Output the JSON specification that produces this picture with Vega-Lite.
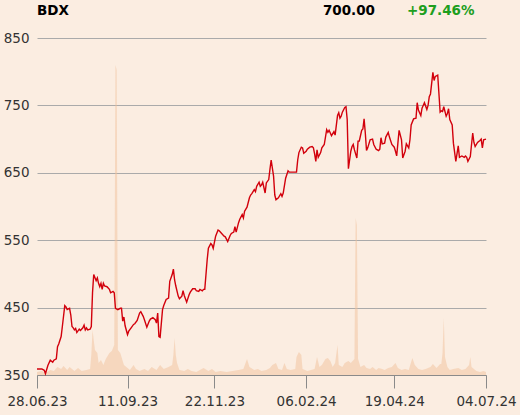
{
  "$schema": "https://vega.github.io/schema/vega-lite/v6.json",
  "width": 449,
  "height": 337,
  "autosize": {"type": "none"},
  "padding": {"left": 37, "top": 38, "right": 34, "bottom": 40},
  "background": "#fbede1",
  "config": {"view": {"stroke": null}, "font": "DejaVu Sans"},
  "datasets": {
    "price": [
      {"date":"2023-06-28","close":359},{"date":"2023-07-02","close":359},{"date":"2023-07-04","close":357},{"date":"2023-07-05","close":352},{"date":"2023-07-07","close":364},{"date":"2023-07-09","close":372},{"date":"2023-07-11","close":369},{"date":"2023-07-12","close":372},{"date":"2023-07-14","close":374},{"date":"2023-07-15","close":392},{"date":"2023-07-16","close":396},{"date":"2023-07-18","close":407},{"date":"2023-07-19","close":422},{"date":"2023-07-21","close":453},{"date":"2023-07-22","close":451},{"date":"2023-07-23","close":447},{"date":"2023-07-24","close":448},{"date":"2023-07-25","close":449},{"date":"2023-07-26","close":439},{"date":"2023-07-27","close":422},{"date":"2023-07-28","close":420},{"date":"2023-07-29","close":417},{"date":"2023-07-30","close":419},{"date":"2023-07-31","close":413},
      {"date":"2023-08-02","close":418},{"date":"2023-08-03","close":416},{"date":"2023-08-05","close":420},{"date":"2023-08-06","close":424},{"date":"2023-08-07","close":417},{"date":"2023-08-08","close":420},{"date":"2023-08-09","close":417},{"date":"2023-08-11","close":418},{"date":"2023-08-12","close":422},{"date":"2023-08-13","close":472},{"date":"2023-08-14","close":499},{"date":"2023-08-16","close":490},{"date":"2023-08-17","close":494},{"date":"2023-08-18","close":486},{"date":"2023-08-19","close":481},{"date":"2023-08-20","close":486},{"date":"2023-08-21","close":477},{"date":"2023-08-22","close":486},{"date":"2023-08-23","close":482},{"date":"2023-08-25","close":481},{"date":"2023-08-27","close":477},{"date":"2023-08-28","close":472},{"date":"2023-08-30","close":474},{"date":"2023-08-31","close":472},
      {"date":"2023-09-01","close":449},{"date":"2023-09-03","close":447},{"date":"2023-09-05","close":449},{"date":"2023-09-06","close":449},{"date":"2023-09-07","close":430},{"date":"2023-09-08","close":436},{"date":"2023-09-09","close":423},{"date":"2023-09-11","close":410},{"date":"2023-09-12","close":415},{"date":"2023-09-14","close":420},{"date":"2023-09-16","close":425},{"date":"2023-09-17","close":426},{"date":"2023-09-19","close":431},{"date":"2023-09-21","close":442},{"date":"2023-09-22","close":444},{"date":"2023-09-24","close":437},{"date":"2023-09-25","close":432},{"date":"2023-09-27","close":421},{"date":"2023-09-29","close":430},{"date":"2023-09-30","close":433},
      {"date":"2023-10-02","close":435},{"date":"2023-10-04","close":432},{"date":"2023-10-05","close":427},{"date":"2023-10-06","close":442},{"date":"2023-10-07","close":407},{"date":"2023-10-08","close":406},{"date":"2023-10-10","close":447},{"date":"2023-10-11","close":453},{"date":"2023-10-13","close":462},{"date":"2023-10-15","close":464},{"date":"2023-10-16","close":489},{"date":"2023-10-18","close":499},{"date":"2023-10-19","close":507},{"date":"2023-10-20","close":491},{"date":"2023-10-21","close":482},{"date":"2023-10-23","close":467},{"date":"2023-10-24","close":463},{"date":"2023-10-26","close":467},{"date":"2023-10-27","close":475},{"date":"2023-10-28","close":468},{"date":"2023-10-30","close":458},
      {"date":"2023-11-01","close":469},{"date":"2023-11-02","close":473},{"date":"2023-11-04","close":478},{"date":"2023-11-06","close":478},{"date":"2023-11-07","close":475},{"date":"2023-11-09","close":474},{"date":"2023-11-10","close":477},{"date":"2023-11-12","close":475},{"date":"2023-11-13","close":477},{"date":"2023-11-14","close":477},{"date":"2023-11-16","close":521},{"date":"2023-11-17","close":538},{"date":"2023-11-19","close":545},{"date":"2023-11-20","close":543},{"date":"2023-11-21","close":538},{"date":"2023-11-23","close":556},{"date":"2023-11-25","close":565},{"date":"2023-11-26","close":564},{"date":"2023-11-28","close":560},{"date":"2023-11-30","close":556},
      {"date":"2023-12-01","close":555},{"date":"2023-12-03","close":548},{"date":"2023-12-05","close":557},{"date":"2023-12-06","close":560},{"date":"2023-12-08","close":562},{"date":"2023-12-09","close":570},{"date":"2023-12-10","close":562},{"date":"2023-12-12","close":576},{"date":"2023-12-13","close":581},{"date":"2023-12-15","close":588},{"date":"2023-12-16","close":583},{"date":"2023-12-17","close":593},{"date":"2023-12-19","close":599},{"date":"2023-12-21","close":613},{"date":"2023-12-22","close":617},{"date":"2023-12-23","close":619},{"date":"2023-12-25","close":625},{"date":"2023-12-26","close":622},{"date":"2023-12-27","close":630},{"date":"2023-12-29","close":636},{"date":"2023-12-30","close":630},{"date":"2023-12-31","close":632},
      {"date":"2024-01-01","close":636},{"date":"2024-01-03","close":620},{"date":"2024-01-04","close":635},{"date":"2024-01-06","close":640},{"date":"2024-01-07","close":655},{"date":"2024-01-08","close":669},{"date":"2024-01-10","close":645},{"date":"2024-01-11","close":617},{"date":"2024-01-12","close":610},{"date":"2024-01-14","close":613},{"date":"2024-01-16","close":619},{"date":"2024-01-17","close":615},{"date":"2024-01-18","close":620},{"date":"2024-01-20","close":642},{"date":"2024-01-22","close":653},{"date":"2024-01-23","close":651},{"date":"2024-01-26","close":651},{"date":"2024-01-28","close":651},{"date":"2024-01-29","close":651},{"date":"2024-01-30","close":669},{"date":"2024-01-31","close":680},
      {"date":"2024-02-02","close":688},{"date":"2024-02-03","close":687},{"date":"2024-02-04","close":679},{"date":"2024-02-06","close":682},{"date":"2024-02-07","close":685},{"date":"2024-02-09","close":688},{"date":"2024-02-11","close":689},{"date":"2024-02-12","close":687},{"date":"2024-02-13","close":678},{"date":"2024-02-14","close":667},{"date":"2024-02-15","close":684},{"date":"2024-02-16","close":673},{"date":"2024-02-18","close":680},{"date":"2024-02-19","close":687},{"date":"2024-02-21","close":692},{"date":"2024-02-23","close":714},{"date":"2024-02-24","close":710},{"date":"2024-02-25","close":713},{"date":"2024-02-27","close":705},{"date":"2024-02-29","close":711},
      {"date":"2024-03-01","close":706},{"date":"2024-03-03","close":735},{"date":"2024-03-04","close":739},{"date":"2024-03-05","close":731},{"date":"2024-03-06","close":734},{"date":"2024-03-07","close":740},{"date":"2024-03-09","close":747},{"date":"2024-03-10","close":748},{"date":"2024-03-11","close":729},{"date":"2024-03-12","close":656},{"date":"2024-03-14","close":682},{"date":"2024-03-15","close":689},{"date":"2024-03-16","close":692},{"date":"2024-03-17","close":684},{"date":"2024-03-19","close":672},{"date":"2024-03-20","close":697},{"date":"2024-03-21","close":697},{"date":"2024-03-22","close":705},{"date":"2024-03-23","close":713},{"date":"2024-03-24","close":715},{"date":"2024-03-25","close":730},{"date":"2024-03-26","close":709},{"date":"2024-03-27","close":683},{"date":"2024-03-28","close":687},{"date":"2024-03-30","close":699},
      {"date":"2024-04-01","close":700},{"date":"2024-04-02","close":692},{"date":"2024-04-04","close":685},{"date":"2024-04-06","close":683},{"date":"2024-04-07","close":685},{"date":"2024-04-08","close":702},{"date":"2024-04-09","close":693},{"date":"2024-04-11","close":694},{"date":"2024-04-12","close":703},{"date":"2024-04-14","close":710},{"date":"2024-04-15","close":703},{"date":"2024-04-17","close":692},{"date":"2024-04-19","close":688},{"date":"2024-04-20","close":682},{"date":"2024-04-21","close":675},{"date":"2024-04-22","close":694},{"date":"2024-04-23","close":713},{"date":"2024-04-25","close":699},{"date":"2024-04-26","close":672},{"date":"2024-04-28","close":682},{"date":"2024-04-29","close":693},
      {"date":"2024-05-01","close":687},{"date":"2024-05-02","close":699},{"date":"2024-05-03","close":721},{"date":"2024-05-05","close":730},{"date":"2024-05-07","close":731},{"date":"2024-05-08","close":754},{"date":"2024-05-09","close":743},{"date":"2024-05-11","close":735},{"date":"2024-05-12","close":746},{"date":"2024-05-14","close":754},{"date":"2024-05-16","close":744},{"date":"2024-05-17","close":750},{"date":"2024-05-18","close":763},{"date":"2024-05-19","close":767},{"date":"2024-05-21","close":799},{"date":"2024-05-22","close":787},{"date":"2024-05-23","close":793},{"date":"2024-05-25","close":795},{"date":"2024-05-27","close":740},{"date":"2024-05-28","close":742},{"date":"2024-05-29","close":741},{"date":"2024-05-30","close":748},
      {"date":"2024-06-01","close":734},{"date":"2024-06-02","close":738},{"date":"2024-06-03","close":745},{"date":"2024-06-04","close":729},{"date":"2024-06-06","close":721},{"date":"2024-06-07","close":694},{"date":"2024-06-09","close":667},{"date":"2024-06-11","close":690},{"date":"2024-06-12","close":673},{"date":"2024-06-14","close":675},{"date":"2024-06-16","close":673},{"date":"2024-06-17","close":675},{"date":"2024-06-18","close":673},{"date":"2024-06-19","close":667},{"date":"2024-06-21","close":674},{"date":"2024-06-23","close":709},{"date":"2024-06-24","close":695},{"date":"2024-06-25","close":689},{"date":"2024-06-27","close":695},{"date":"2024-06-29","close":698},{"date":"2024-06-30","close":700},
      {"date":"2024-07-01","close":687},{"date":"2024-07-02","close":699},{"date":"2024-07-04","close":700}
    ],
    "volume": [
      {"date":"2023-06-28","volume":3},{"date":"2023-07-02","volume":4},{"date":"2023-07-05","volume":2},{"date":"2023-07-09","volume":5},{"date":"2023-07-12","volume":4},{"date":"2023-07-15","volume":8},{"date":"2023-07-18","volume":6},{"date":"2023-07-20","volume":9},{"date":"2023-07-23","volume":5},{"date":"2023-07-25","volume":8},{"date":"2023-07-29","volume":4},
      {"date":"2023-08-01","volume":7},{"date":"2023-08-04","volume":4},{"date":"2023-08-08","volume":5},{"date":"2023-08-11","volume":6},{"date":"2023-08-12","volume":20},{"date":"2023-08-13","volume":45},{"date":"2023-08-15","volume":25},{"date":"2023-08-17","volume":22},{"date":"2023-08-18","volume":12},{"date":"2023-08-20","volume":15},{"date":"2023-08-22","volume":10},{"date":"2023-08-24","volume":16},{"date":"2023-08-26","volume":20},{"date":"2023-08-27","volume":22},{"date":"2023-08-29","volume":24},{"date":"2023-08-31","volume":30},
      {"date":"2023-09-01","volume":310},{"date":"2023-09-02","volume":305},{"date":"2023-09-03","volume":25},{"date":"2023-09-05","volume":22},{"date":"2023-09-06","volume":18},{"date":"2023-09-08","volume":10},{"date":"2023-09-10","volume":8},{"date":"2023-09-13","volume":5},{"date":"2023-09-16","volume":10},{"date":"2023-09-18","volume":6},{"date":"2023-09-21","volume":4},{"date":"2023-09-25","volume":6},{"date":"2023-09-28","volume":4},
      {"date":"2023-10-01","volume":8},{"date":"2023-10-05","volume":5},{"date":"2023-10-08","volume":10},{"date":"2023-10-11","volume":6},{"date":"2023-10-15","volume":8},{"date":"2023-10-18","volume":10},{"date":"2023-10-19","volume":20},{"date":"2023-10-20","volume":37},{"date":"2023-10-21","volume":20},{"date":"2023-10-22","volume":12},{"date":"2023-10-24","volume":5},{"date":"2023-10-28","volume":4},{"date":"2023-10-31","volume":6},
      {"date":"2023-11-03","volume":4},{"date":"2023-11-07","volume":3},{"date":"2023-11-10","volume":5},{"date":"2023-11-13","volume":7},{"date":"2023-11-17","volume":4},{"date":"2023-11-20","volume":6},{"date":"2023-11-23","volume":3},{"date":"2023-11-27","volume":4},
      {"date":"2023-12-02","volume":3},{"date":"2023-12-07","volume":4},{"date":"2023-12-12","volume":5},{"date":"2023-12-16","volume":6},{"date":"2023-12-19","volume":16},{"date":"2023-12-21","volume":8},{"date":"2023-12-25","volume":5},{"date":"2023-12-28","volume":6},{"date":"2023-12-31","volume":4},
      {"date":"2024-01-04","volume":5},{"date":"2024-01-07","volume":7},{"date":"2024-01-09","volume":10},{"date":"2024-01-12","volume":12},{"date":"2024-01-14","volume":6},{"date":"2024-01-17","volume":5},{"date":"2024-01-19","volume":12},{"date":"2024-01-21","volume":6},{"date":"2024-01-24","volume":5},{"date":"2024-01-28","volume":6},{"date":"2024-01-29","volume":18},{"date":"2024-01-31","volume":23},
      {"date":"2024-02-02","volume":20},{"date":"2024-02-03","volume":6},{"date":"2024-02-07","volume":4},{"date":"2024-02-10","volume":5},{"date":"2024-02-13","volume":6},{"date":"2024-02-15","volume":18},{"date":"2024-02-17","volume":8},{"date":"2024-02-19","volume":10},{"date":"2024-02-22","volume":16},{"date":"2024-02-24","volume":17},{"date":"2024-02-26","volume":14},{"date":"2024-02-28","volume":8},
      {"date":"2024-03-01","volume":12},{"date":"2024-03-03","volume":30},{"date":"2024-03-04","volume":10},{"date":"2024-03-07","volume":8},{"date":"2024-03-09","volume":12},{"date":"2024-03-12","volume":14},{"date":"2024-03-14","volume":12},{"date":"2024-03-17","volume":16},{"date":"2024-03-18","volume":157},{"date":"2024-03-19","volume":150},{"date":"2024-03-20","volume":16},{"date":"2024-03-22","volume":8},{"date":"2024-03-25","volume":10},{"date":"2024-03-27","volume":7},{"date":"2024-03-30","volume":6},
      {"date":"2024-04-01","volume":8},{"date":"2024-04-04","volume":5},{"date":"2024-04-06","volume":7},{"date":"2024-04-09","volume":6},{"date":"2024-04-11","volume":5},{"date":"2024-04-14","volume":7},{"date":"2024-04-17","volume":8},{"date":"2024-04-20","volume":12},{"date":"2024-04-22","volume":7},{"date":"2024-04-25","volume":5},{"date":"2024-04-28","volume":6},
      {"date":"2024-05-01","volume":5},{"date":"2024-05-04","volume":17},{"date":"2024-05-06","volume":10},{"date":"2024-05-09","volume":6},{"date":"2024-05-12","volume":5},{"date":"2024-05-15","volume":6},{"date":"2024-05-19","volume":8},{"date":"2024-05-21","volume":11},{"date":"2024-05-24","volume":7},{"date":"2024-05-27","volume":11},{"date":"2024-05-28","volume":11},{"date":"2024-05-29","volume":22},{"date":"2024-05-30","volume":57},{"date":"2024-05-31","volume":18},
      {"date":"2024-06-02","volume":8},{"date":"2024-06-04","volume":5},{"date":"2024-06-07","volume":6},{"date":"2024-06-11","volume":7},{"date":"2024-06-14","volume":5},{"date":"2024-06-17","volume":6},{"date":"2024-06-20","volume":10},{"date":"2024-06-21","volume":18},{"date":"2024-06-22","volume":8},{"date":"2024-06-26","volume":4},{"date":"2024-06-29","volume":3},
      {"date":"2024-07-02","volume":4},{"date":"2024-07-04","volume":3}
    ]
  },
  "layer": [
    {
      "data": {"name": "volume"},
      "mark": {"type": "area", "color": "#f2c19b", "opacity": 0.5},
      "encoding": {
        "x": {
          "field": "date", "type": "temporal",
          "scale": {"type": "utc", "nice": false, "domain": [{"year": 2023, "month": 6, "date": 28, "utc": true}, {"year": 2024, "month": 7, "date": 4, "utc": true}]},
          "axis": {
            "title": null, "grid": false,
            "values": [
              {"year": 2023, "month": 6, "date": 28, "utc": true},
              {"year": 2023, "month": 9, "date": 11, "utc": true},
              {"year": 2023, "month": 11, "date": 22, "utc": true},
              {"year": 2024, "month": 2, "date": 6, "utc": true},
              {"year": 2024, "month": 4, "date": 19, "utc": true},
              {"year": 2024, "month": 7, "date": 4, "utc": true}
            ],
            "labelExpr": "utcFormat(datum.value, '%d.%m.%y')",
            "tickSize": 13, "tickColor": "#8a8a8a", "domainColor": "#8a8a8a",
            "labelPadding": 6, "labelFontSize": 13.5, "labelColor": "#333333", "labelFont": "DejaVu Sans",
            "labelFlush": false, "labelOverlap": false
          }
        },
        "y": {"field": "volume", "type": "quantitative", "scale": {"domain": [0, 337], "nice": false}, "axis": null}
      }
    },
    {
      "data": {"name": "price"},
      "mark": {"type": "line", "color": "#d2000c", "strokeWidth": 1.4},
      "encoding": {
        "x": {"field": "date", "type": "temporal"},
        "y": {
          "field": "close", "type": "quantitative",
          "scale": {"domain": [350, 850], "nice": false, "zero": false},
          "axis": {
            "orient": "left", "title": null, "values": [350, 450, 550, 650, 750, 850],
            "grid": true, "gridColor": "#aaaaaa", "gridWidth": 1,
            "domain": false, "ticks": false, "labelPadding": 8,
            "labelFontSize": 13.5, "labelColor": "#333333", "labelFont": "DejaVu Sans"
          }
        }
      }
    },
    {
      "data": {"values": [{"label": "BDX"}]},
      "mark": {"type": "text", "align": "left", "baseline": "alphabetic", "fontWeight": "bold", "fontSize": 13.5, "font": "DejaVu Sans", "color": "#000000"},
      "encoding": {"text": {"field": "label"}, "x": {"value": 0}, "y": {"value": -23}}
    },
    {
      "data": {"values": [{"label": "700.00"}]},
      "mark": {"type": "text", "align": "right", "baseline": "alphabetic", "fontWeight": "bold", "fontSize": 13.5, "font": "DejaVu Sans", "color": "#000000"},
      "encoding": {"text": {"field": "label"}, "x": {"value": 338}, "y": {"value": -23}}
    },
    {
      "data": {"values": [{"label": "+97.46%"}]},
      "mark": {"type": "text", "align": "left", "baseline": "alphabetic", "fontWeight": "bold", "fontSize": 13.5, "font": "DejaVu Sans", "color": "#1e9e1e"},
      "encoding": {"text": {"field": "label"}, "x": {"value": 370}, "y": {"value": -23}}
    }
  ],
  "resolve": {"scale": {"y": "independent"}}
}
